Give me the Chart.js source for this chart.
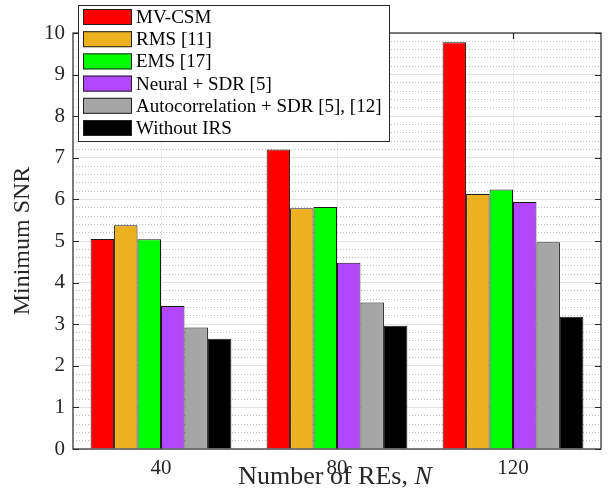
<!DOCTYPE html>
<html>
<head>
<meta charset="utf-8">
<script src="https://cdn.jsdelivr.net/npm/chart.js@4"></script>
<style>
  html, body { margin: 0; padding: 0; background: #fff; }
  #wrap { width: 610px; height: 502px; }
</style>
</head>
<body>
<div id="wrap"><canvas id="snr-chart" width="610" height="502"></canvas></div>
<script>
// data
const groups = ['40', '80', '120'];
const seriesNames = ['MV-CSM', 'RMS [11]', 'EMS [17]', 'Neural + SDR [5]', 'Autocorrelation + SDR [5], [12]', 'Without IRS'];
const mvCsm = [5.05, 7.20, 9.78];
const rms = [5.38, 5.79, 6.13];
const ems = [5.04, 5.82, 6.24];
const neuralSdr = [3.44, 4.48, 5.94];
const autoSdr = [2.92, 3.52, 4.97];
const withoutIrs = [2.65, 2.96, 3.18];
const yTicks = [0, 1, 2, 3, 4, 5, 6, 7, 8, 9, 10];

const colors = ['#ff0000', '#edb120', '#00ff00', '#b347ff', '#a6a6a6', '#000000'];
const allSeries = [mvCsm, rms, ems, neuralSdr, autoSdr, withoutIrs];
const FONT = "'Liberation Serif', 'Times New Roman', serif";
const AX = '#262626';

//legend box drawn inside the axes, top left
const legendBox = {
	id: 'legendBox',
	afterDraw(chart) {
		const c = chart.ctx;
		const x0 = 78, y0 = 5, w = 311, h = 136;
		c.save();
		c.fillStyle = '#fff';
		c.fillRect(x0, y0, w, h);
		c.strokeStyle = AX;
		c.lineWidth = 1;
		c.strokeRect(x0 + 0.5, y0 + 0.5, w, h);
		c.font = '19px ' + FONT;
		c.textBaseline = 'middle';
		chart.data.datasets.forEach((ds, i) => {
			const cy = 17 + i * 22.2;
			c.fillStyle = ds.backgroundColor;
			c.fillRect(83, cy - 8, 49, 16);
			c.strokeStyle = '#222';
			c.strokeRect(83.5, cy - 7.5, 48, 15);
			c.fillStyle = '#000';
			c.fillText(ds.label, 136, cy + 1);
		});
		c.restore();
	}
};

//box, inward ticks and x title
const axesBox = {
	id: 'axesBox',
	afterDatasetsDraw(chart) {
		const c = chart.ctx;
		const a = chart.chartArea;
		const ys = chart.scales.y;
		const xs = chart.scales.x;
		c.save();
		c.strokeStyle = AX;
		c.lineWidth = 1.2;
		c.strokeRect(a.left, a.top, a.right - a.left, a.bottom - a.top);
		c.beginPath();
		yTicks.forEach((v) => {
			const py = Math.round(ys.getPixelForValue(v)) + 0.5;
			c.moveTo(a.left, py); c.lineTo(a.left + 6, py);
			c.moveTo(a.right, py); c.lineTo(a.right - 6, py);
		});
		groups.forEach((g, i) => {
			const px = Math.round(xs.getPixelForValue(i)) + 0.5;
			c.moveTo(px, a.bottom); c.lineTo(px, a.bottom - 6);
			c.moveTo(px, a.top); c.lineTo(px, a.top + 6);
		});
		c.stroke();

		// x title with italic N
		const cx = (a.left + a.right) / 2 - 2;
		c.fillStyle = AX;
		c.textBaseline = 'alphabetic';
		const t1 = 'Number of REs, ';
		c.font = 'italic 26px ' + FONT;
		const w2 = c.measureText('N').width;
		c.font = '26px ' + FONT;
		const w1 = c.measureText(t1).width;
		const sx = cx - (w1 + w2) / 2;
		c.fillText(t1, sx, 484);
		c.font = 'italic 26px ' + FONT;
		c.fillText('N', sx + w1, 484);
		c.restore();
	}
};

const ctx = document.querySelector('#snr-chart').getContext('2d');
const snrChart = new Chart(ctx, {
	type: 'bar',
	data: {
		labels: groups,
		datasets: allSeries.map((d, i) => ({
			label: seriesNames[i],
			data: d,
			backgroundColor: colors[i],
			borderColor: '#1a1a1a',
			borderWidth: 1,
			borderSkipped: 'start',
			categoryPercentage: 0.8,
			barPercentage: 1.0
		}))
	},
	options: {
		responsive: false,
		animation: false,
		layout: { padding: { top: 33, right: 9, left: 0, bottom: 0 } },
		plugins: {
			legend: { display: false },
			tooltip: { enabled: false }
		},
		scales: {
			x: {
				offset: true,
				grid: { offset: false, color: '#e8e8e8', lineWidth: 1, drawTicks: false },
				border: { display: false },
				ticks: { color: AX, padding: 7, font: { family: FONT, size: 21 } },
				afterFit: (s) => { s.height = 53; }
			},
			y: {
				min: 0,
				max: 10,
				position: 'left',
				grid: { color: '#e3e3e3', lineWidth: 1, drawTicks: false },
				border: { display: false },
				afterBuildTicks: (s) => { s.ticks = yTicks.map((v) => ({ value: v })); },
				ticks: { color: AX, padding: 8, font: { family: FONT, size: 21 } },
				title: {
					display: true,
					text: 'Minimum SNR',
					color: AX,
					font: { family: FONT, size: 24 },
					padding: { top: 8, bottom: 0 }
				},
				afterFit: (s) => { s.width = 73; }
			},
			yMinor: {
				min: 0,
				max: 10,
				position: 'left',
				ticks: { display: false, stepSize: 0.2 },
				grid: {
					drawTicks: false,
					lineWidth: 1,
					color: (cx) => (Math.abs(cx.tick.value - Math.round(cx.tick.value)) < 1e-6 ? 'rgba(0,0,0,0)' : '#bdbdbd')
				},
				border: { display: false, dash: [1, 2] },
				afterFit: (s) => { s.width = 0; }
			}
		}
	},
	plugins: [axesBox, legendBox]
});
</script>
</body>
</html>
